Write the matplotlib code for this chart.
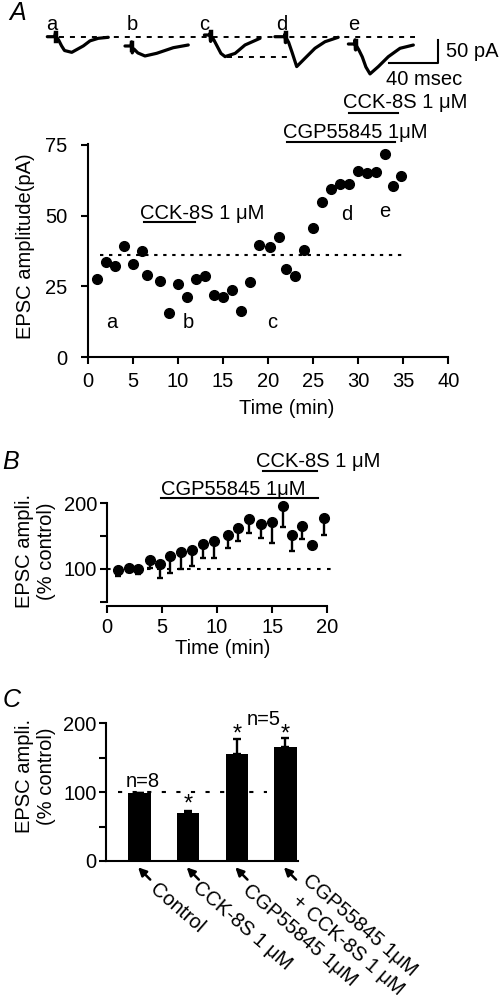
import matplotlib
matplotlib.use('Agg')
import matplotlib.pyplot as plt
import numpy as np

plt.rcParams['font.family'] = ['Liberation Sans', 'DejaVu Sans']
plt.rcParams['font.size'] = 14.5
plt.rcParams['lines.scale_dashes'] = False
plt.rcParams['axes.linewidth'] = 1.5

# ------------------------------------------------------------------ data
# Panel A example traces (time in ms relative to stimulus, current in pA)
trace_labels = ['a', 'b', 'c', 'd', 'e']
trace_a_t = [-6.8, -0.8, 0, 0.7, 1.2, 2.5, 5.0, 7.4, 13.4, 23.0, 28.5, 35.3, 43.6]
trace_a_i = [0, 0, 9, -7, -2, -7, -20, -30, -34, -20, -9, -3.5, -1.3]
trace_b_t = [-5.5, -0.6, 0, 0.5, 1.9, 5.1, 11.0, 20.7, 34.4, 46.8]
trace_b_i = [0, 0, 9, -15, -6.5, -15, -21.7, -15.9, -3.7, 2.2]
trace_c_t = [-4.7, -0.4, 0, 0.5, 1.2, 3, 6, 9, 12.4, 20.7, 28.9, 41.3]
trace_c_i = [0, 0, 4, -14, -4, -10, -25, -40, -47, -40, -21.7, -7.2]
trace_d_t = [-8.3, -0.5, 0, 0.5, 1.2, 3, 6, 9.7, 16.5, 24.8, 33.1, 44.0]
trace_d_i = [0, 0, 6, -13, -4, -12, -35, -65, -47, -25.2, -10.9, -1.3]
trace_e_t = [-5.5, -0.5, 0, 0.5, 1.2, 3, 6, 9, 12.4, 19.3, 27.5, 37.2, 48.2]
trace_e_i = [0, 0, 9, -13, -4, -12, -28, -50, -65, -49, -27.6, -9.3, -2.2]

# Panel A time course
time_a = [1, 2, 3, 4, 5, 6, 6.6, 8, 9, 10, 11, 12, 13, 14, 15, 16, 17, 18, 19,
          20.2, 21.2, 22, 23, 24, 25, 26, 27, 28, 29, 30, 31, 32, 33, 33.9, 34.8]
amp_a = [27.6, 33.5, 32.3, 39.1, 32.8, 37.5, 28.9, 26.8, 15.4, 25.7, 21.3, 27.5,
         28.8, 21.9, 21.2, 23.7, 16.2, 26.5, 39.7, 38.9, 42.5, 31.1, 28.6, 37.8,
         45.5, 54.7, 59.4, 61.2, 61.2, 65.7, 65.1, 65.4, 71.9, 60.3, 64.0]
control_a = 36.2

# Panel B normalised time course (mean and lower error)
time_b = [1, 2, 2.8, 3.9, 4.85, 5.75, 6.7, 7.7, 8.7, 9.7, 11.0, 11.9, 12.9, 14.0,
          15.0, 16.0, 16.8, 17.7, 18.6, 19.7]
mean_b = [98.5, 101, 100, 113.7, 107, 119.8, 125.4, 128.9, 138, 143, 151.7, 162,
          176, 168.5, 171.5, 196, 151.7, 165.5, 136.5, 177.6]
low_b = [89.8, 96, 92, 101, 86.8, 93.9, 99.5, 105, 116.3, 116.3, 131.5, 143,
         154.3, 147.2, 140, 163.5, 127.4, 145.7, 134, 152.2]

# Panel C summary
cond_c = ['Control', 'CCK-8S 1 \u03bcM', 'CGP55845 1\u03bcM',
          'CGP55845 1\u03bcM\n+ CCK-8S 1 \u03bcM']
mean_c = [98.5, 70.3, 155.7, 165.5]
err_c = [0.8, 2.3, 21.3, 13.1]
n_labels = ['n=8', 'n=5']

# ------------------------------------------------------------------ layout
W, H = 499, 997
fig = plt.figure(figsize=(W / 100, H / 100), dpi=100)


def fx(px):
    return px / W


def fy(py):
    return 1 - py / H


def box(l, t, r, b):
    return [l / W, 1 - b / H, (r - l) / W, (b - t) / H]


dash_a = (0, (2.4, 4.1))
lw_sp = 1.5

# ---------------- traces
axt = fig.add_axes(box(0, 20, W, 90))
axt.set_xlim(0, W / 1.21)
axt.set_ylim(-(90 - 36.7) / 0.46, -(20 - 36.7) / 0.46)
axt.axis('off')
traces = [(trace_a_t, trace_a_i), (trace_b_t, trace_b_i), (trace_c_t, trace_c_i),
          (trace_d_t, trace_d_i), (trace_e_t, trace_e_i)]
onset = [45.9, 108.8, 173.6, 235.5, 293.4]
offset = [0, -20.2, 3.7, 0, -15.9]
for (tt, ii), on, off in zip(traces, onset, offset):
    axt.plot(np.array(tt) + on, np.array(ii) + off, color='k', lw=2.3,
             solid_joinstyle='round', solid_capstyle='round')
    axt.plot([on + 0.6, on + 0.6], [off + 7, off - 9], color='k', lw=3.2)
axt.plot([39.4, 343], [0, 0], color='k', lw=1.4, ls=(0, (3.6, 4.3)))
axt.plot([187.4, 241], [-44, -44], color='k', lw=1.4, ls=(0, (3.6, 4.3)))
# scale bar 40 ms / 50 pA
axt.plot([321.7, 361.7, 361.7], [-57.8, -57.8, -7.8], color='k', lw=1.5)
axt.text(368.6, -33, '50 pA', ha='left', va='center')
axt.text(350.4, -94, '40 msec', ha='center', va='center')
for lab, px in zip(trace_labels, [51.7, 132.7, 204, 281.7, 353.3]):
    fig.text(fx(px), fy(30.5), lab, ha='center', va='baseline')

fig.text(fx(18), fy(13), 'A', ha='center', va='center', fontsize=18, style='italic')
fig.text(fx(11), fy(462), 'B', ha='center', va='center', fontsize=18, style='italic')
fig.text(fx(12), fy(700), 'C', ha='center', va='center', fontsize=18, style='italic')

# ---------------- panel A time course
axA = fig.add_axes(box(88, 143.5, 448.3, 357))
axA.plot(time_a, amp_a, 'o', color='k', ms=7, clip_on=False)
axA.plot([1.3, 35], [control_a, control_a], color='k', lw=1.5, ls=dash_a)
axA.set_xlim(0, 40)
axA.set_ylim(0, 75.5)
axA.set_xticks(range(0, 41, 5))
axA.set_yticks([0, 25, 50, 75])
axA.spines[['top', 'right']].set_visible(False)
axA.tick_params(axis='both', direction='out', length=4.8, width=lw_sp)
axA.tick_params(axis='x', pad=6)
axA.tick_params(axis='y', pad=10)
fig.text(fx(25.5), fy(246.5), 'EPSC amplitude(pA)', rotation=90, ha='center', va='center')
fig.text(fx(286.7), fy(408.3), 'Time (min)', ha='center', va='center')
for lab, xx, yy in [('a', 2.63, 10.1), ('b', 11.1, 10.1), ('c', 20.5, 10.1),
                    ('d', 28.7, 48.4), ('e', 32.9, 49.4)]:
    axA.text(xx, yy, lab, ha='center', va='baseline')
axA.text(5.8, 48.7, 'CCK-8S 1 \u03bcM', ha='left', va='baseline')
axA.plot([6.2, 11.9], [47.7, 47.7], color='k', lw=1.5)
axA.text(21.7, 77.5, 'CGP55845 1\u03bcM', ha='left', va='baseline', clip_on=False)
axA.plot([22.1, 34.1], [76.1, 76.1], color='k', lw=1.5, clip_on=False)
axA.text(28.3, 87.9, 'CCK-8S 1 \u03bcM', ha='left', va='baseline', clip_on=False)
axA.plot([29, 34.4], [86.3, 86.3], color='k', lw=1.5, clip_on=False)

# ---------------- panel B
axB = fig.add_axes(box(106.7, 503.3, 327.3, 601.8))
err_lo = np.array(mean_b) - np.array(low_b)
axB.errorbar(time_b, mean_b, yerr=[err_lo, np.zeros_like(err_lo)], fmt='o',
             color='k', ms=7, elinewidth=1.7, capsize=2.4, capthick=1.7,
             clip_on=False)
axB.plot([0, 20.8], [100, 100], color='k', lw=1.5, ls=(0, (2.6, 4.6)), clip_on=False)
axB.set_xlim(0, 20)
axB.set_ylim(50, 200)
axB.set_xticks([0, 5, 10, 15, 20])
axB.set_yticks([50, 100, 150, 200])
axB.set_yticklabels(['', '100', '', '200'])
axB.spines[['top', 'right']].set_visible(False)
axB.spines['bottom'].set_position(('outward', 3))
axB.tick_params(axis='both', direction='out', length=4.8, width=lw_sp)
axB.tick_params(axis='x', pad=4)
axB.tick_params(axis='y', pad=2)
fig.text(fx(35), fy(551), 'EPSC ampli.\n(% control)', rotation=90, ha='center',
         va='center', multialignment='center', linespacing=1.2)
fig.text(fx(222.7), fy(648.3), 'Time (min)', ha='center', va='center')
axB.text(4.93, 212.6, 'CGP55845 1\u03bcM', ha='left', va='baseline', clip_on=False)
axB.plot([4.93, 19.2], [207.6, 207.6], color='k', lw=1.5, clip_on=False)
axB.text(13.5, 255.7, 'CCK-8S 1 \u03bcM', ha='left', va='baseline', clip_on=False)
axB.plot([14.2, 19.1], [249.2, 249.2], color='k', lw=1.5, clip_on=False)

# ---------------- panel C
axC = fig.add_axes(box(106, 723.3, 298, 861))
xc = np.arange(len(cond_c))
axC.plot([-0.44, 2.62], [100, 100], color='k', lw=1.5, ls=(0, (3.0, 7.5)), zorder=1)
axC.bar(xc, mean_c, width=0.46, color='k', zorder=2,
        yerr=[np.zeros(len(err_c)), err_c], capsize=2.9,
        error_kw=dict(elinewidth=1.7, capthick=1.7, ecolor='k', zorder=3))
axC.set_xlim(-0.69, 3.26)
axC.set_ylim(0, 200)
axC.set_yticks([0, 50, 100, 150, 200])
axC.set_yticklabels(['0', '', '100', '', '200'])
axC.set_xticks([])
axC.spines[['top', 'right']].set_visible(False)
axC.tick_params(axis='y', direction='out', length=4.8, width=lw_sp, pad=2)
fig.text(fx(35), fy(776), 'EPSC ampli.\n(% control)', rotation=90, ha='center',
         va='center', multialignment='center', linespacing=1.2)
for xi, yy in [(1, 73), (2, 174.5), (3, 174.5)]:
    axC.text(xi, yy, '*', ha='center', va='baseline', fontsize=17)
axC.text(0.066, 107.9, n_labels[0], ha='center', va='baseline')
axC.text(2.547, 197.5, n_labels[1], ha='center', va='baseline', clip_on=False)
# slanted category labels with arrows
label_anchor = [(0.267, -37.0), (0.14, -34.6), (0.167, -39.5), (0.40, -25.0)]
for xi, name, (dx, yy) in zip(xc, cond_c, label_anchor):
    axC.annotate('', xy=(xi - 0.03, -9.2), xytext=(xi + 0.22, -27),
                 arrowprops=dict(arrowstyle='-|>', color='k', lw=1.8,
                                 mutation_scale=12, shrinkA=0, shrinkB=0),
                 annotation_clip=False)
    lines = name.split('\n')
    axC.text(xi + dx, yy, lines[0], rotation=-41, rotation_mode='anchor',
             ha='left', va='center', clip_on=False)
    if len(lines) > 1:
        axC.text(xi + 0.19, -54.5, lines[1], rotation=-41, rotation_mode='anchor',
                 ha='left', va='center', clip_on=False)

fig.savefig('out.png', dpi=100)
